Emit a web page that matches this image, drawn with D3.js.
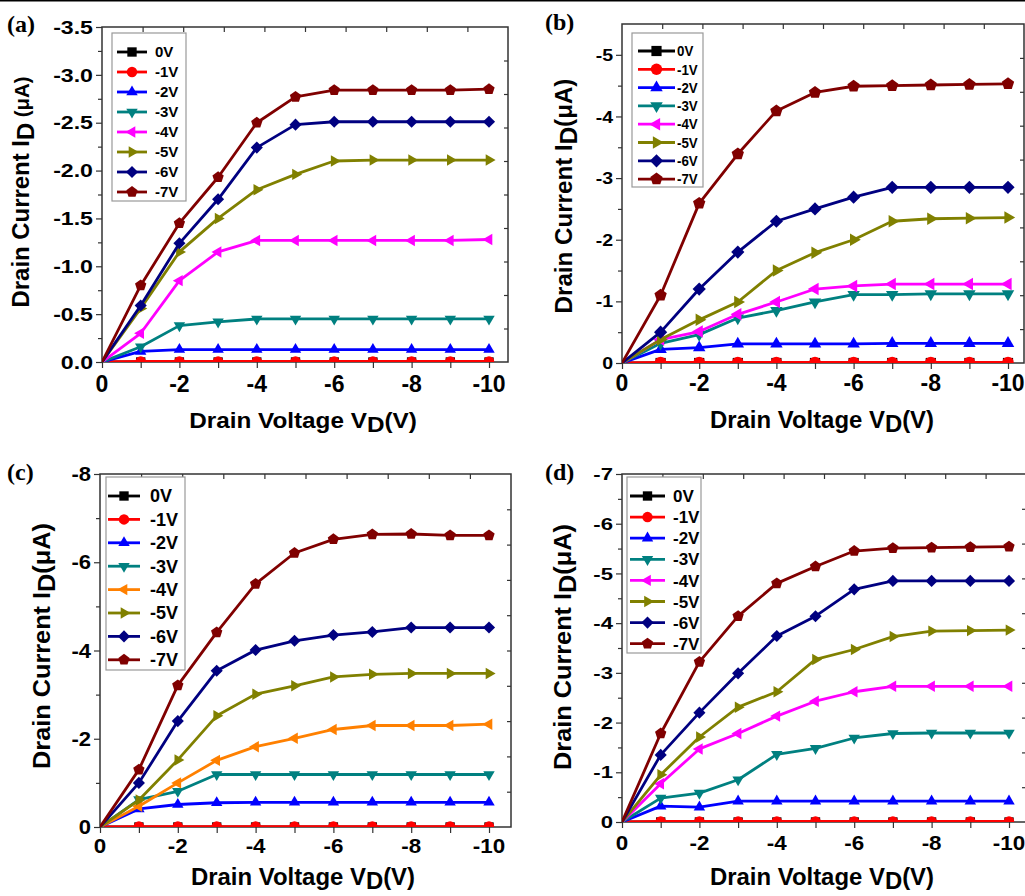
<!DOCTYPE html>
<html lang="en">
<head>
<meta charset="UTF-8">
<title>Drain current vs drain voltage</title>
<script src="https://d3js.org/d3.v7.min.js"></script>
<style>
  body { margin: 0; background: #fff; }
  svg { display: block; font-family: "Liberation Sans", Arial, sans-serif; font-weight: bold; }
  .tag { font-family: "Liberation Serif", "Times New Roman", serif; }
</style>
</head>
<body>
<svg id="chart" width="1025" height="896"></svg>
<script>
// ---- data (drain current in uA) ----
const drainV = [0, -1, -2, -3, -4, -5, -6, -7, -8, -9, -10];
const gateV = ["0V", "-1V", "-2V", "-3V", "-4V", "-5V", "-6V", "-7V"];
const colorsMain = ["#000000", "#ff0000", "#0000ff", "#008080", "#ff00ff", "#808000", "#000080", "#800000"];
const colorsC = ["#000000", "#ff0000", "#0000ff", "#008080", "#ff8000", "#808000", "#000080", "#800000"];

const idA = [
  [0, 0, 0, 0, 0, 0, 0, 0, 0, 0, 0],
  [0, -0.005, -0.005, -0.005, -0.005, -0.005, -0.005, -0.005, -0.005, -0.005, -0.005],
  [0, -0.11, -0.13, -0.13, -0.13, -0.13, -0.13, -0.13, -0.13, -0.13, -0.13],
  [0, -0.16, -0.38, -0.42, -0.45, -0.45, -0.45, -0.45, -0.45, -0.45, -0.45],
  [0, -0.30, -0.85, -1.15, -1.27, -1.27, -1.27, -1.27, -1.27, -1.27, -1.28],
  [0, -0.56, -1.15, -1.50, -1.80, -1.96, -2.10, -2.11, -2.11, -2.11, -2.11],
  [0, -0.59, -1.24, -1.70, -2.24, -2.48, -2.51, -2.51, -2.51, -2.51, -2.51],
  [0, -0.80, -1.45, -1.93, -2.50, -2.77, -2.84, -2.84, -2.84, -2.84, -2.85]
];
const idB = [
  [0, 0, 0, 0, 0, 0, 0, 0, 0, 0, 0],
  [0, -0.01, -0.01, -0.01, -0.01, -0.01, -0.01, -0.01, -0.01, -0.01, -0.01],
  [0, -0.22, -0.25, -0.31, -0.31, -0.31, -0.31, -0.32, -0.32, -0.32, -0.32],
  [0, -0.32, -0.46, -0.73, -0.85, -0.99, -1.11, -1.11, -1.12, -1.12, -1.12],
  [0, -0.38, -0.51, -0.79, -0.99, -1.20, -1.25, -1.28, -1.28, -1.28, -1.28],
  [0, -0.38, -0.70, -0.99, -1.50, -1.79, -2.00, -2.30, -2.34, -2.35, -2.36],
  [0, -0.50, -1.20, -1.80, -2.30, -2.50, -2.69, -2.85, -2.85, -2.85, -2.85],
  [0, -1.10, -2.59, -3.39, -4.09, -4.39, -4.49, -4.50, -4.51, -4.52, -4.53]
];
const idC = [
  [0, 0, 0, 0, 0, 0, 0, 0, 0, 0, 0],
  [0, -0.01, -0.01, -0.01, -0.01, -0.01, -0.01, -0.01, -0.01, -0.01, -0.01],
  [0, -0.41, -0.51, -0.55, -0.56, -0.56, -0.56, -0.56, -0.56, -0.56, -0.56],
  [0, -0.62, -0.81, -1.19, -1.19, -1.19, -1.19, -1.19, -1.19, -1.19, -1.19],
  [0, -0.47, -1.00, -1.51, -1.82, -2.01, -2.21, -2.30, -2.30, -2.30, -2.33],
  [0, -0.61, -1.52, -2.52, -3.01, -3.20, -3.40, -3.46, -3.48, -3.48, -3.48],
  [0, -1.00, -2.40, -3.54, -4.01, -4.22, -4.35, -4.42, -4.52, -4.52, -4.52],
  [0, -1.30, -3.21, -4.41, -5.51, -6.21, -6.52, -6.63, -6.64, -6.61, -6.61]
];
const idD = [
  [0, 0, 0, 0, 0, 0, 0, 0, 0, 0, 0],
  [0, -0.01, -0.01, -0.01, -0.01, -0.01, -0.01, -0.01, -0.01, -0.01, -0.01],
  [0, -0.32, -0.30, -0.42, -0.42, -0.42, -0.42, -0.42, -0.42, -0.42, -0.42],
  [0, -0.48, -0.58, -0.85, -1.36, -1.48, -1.69, -1.78, -1.79, -1.79, -1.79],
  [0, -0.77, -1.47, -1.78, -2.13, -2.43, -2.62, -2.73, -2.73, -2.73, -2.73],
  [0, -0.95, -1.71, -2.31, -2.62, -3.27, -3.47, -3.73, -3.84, -3.85, -3.86],
  [0, -1.35, -2.20, -2.99, -3.74, -4.14, -4.68, -4.85, -4.85, -4.85, -4.85],
  [0, -1.78, -3.22, -4.14, -4.80, -5.14, -5.45, -5.51, -5.52, -5.53, -5.54]
];

const xTicks = [0, -2, -4, -6, -8, -10];
const xMinor = [-1, -3, -5, -7, -9];
const yTicksA = [0, -0.5, -1, -1.5, -2, -2.5, -3, -3.5];
const yTicksB = [0, -1, -2, -3, -4, -5];
const yTicksC = [0, -2, -4, -6, -8];
const yTicksD = [0, -1, -2, -3, -4, -5, -6, -7];

// ---- layout ----
const panels = [
  { tag: "(a)", tagX: 7, tagY: 32, data: idA, colors: colorsMain, yTicks: yTicksA, digits: 1, yTop: -3.5,
    left: 102, x10: 489, right: 508, top: 27, bottom: 362,
    yFont: 18.5, yStretch: 1.25, xFont: 23, xStretch: 1.0, xBase: 392,
    xTitle: [303, 428, 22.5, 1.08], yTitle: [29, 192, 23, 1.04], unitSpace: true,
    leg: { x0: 112, x1: 186, y0: 33, y1: 201, row: 52, step: 20, l0: 117, l1: 147, tx: 155, font: 15, sx: 1.0 }, mk: 5.5 },
  { tag: "(b)", tagX: 545, tagY: 30, data: idB, colors: colorsMain, yTicks: yTicksB, digits: 0, yTop: -5.5,
    left: 622, x10: 1008, right: 1024, top: 24, bottom: 363,
    yFont: 17, yStretch: 1.15, xFont: 23, xStretch: 1.0, xBase: 391,
    xTitle: [822, 428, 23, 1.04], yTitle: [572, 196, 23, 1.05], unitSpace: false,
    leg: { x0: 632, x1: 703, y0: 33, y1: 187, row: 51, step: 18.3, l0: 638, l1: 675, tx: 677, font: 14.5, sx: 0.92 }, mk: 6 },
  { tag: "(c)", tagX: 7, tagY: 480, data: idC, colors: colorsC, yTicks: yTicksC, digits: 0, yTop: -8,
    left: 100, x10: 489, right: 511, top: 474, bottom: 827,
    yFont: 20, yStretch: 1.1, xFont: 20, xStretch: 1.12, xBase: 853,
    xTitle: [303, 885, 23, 1.04], yTitle: [50, 646, 23, 1.1], unitSpace: false,
    leg: { x0: 106, x1: 185, y0: 477, y1: 670, row: 496, step: 23.4, l0: 108, l1: 140, tx: 150, font: 18, sx: 1.0 }, mk: 5.5 },
  { tag: "(d)", tagX: 545, tagY: 480, data: idD, colors: colorsMain, yTicks: yTicksD, digits: 0, yTop: -7,
    left: 622, x10: 1009, right: 1026, top: 474, bottom: 822,
    yFont: 17, yStretch: 1.3, xFont: 20, xStretch: 1.12, xBase: 850,
    xTitle: [822, 885, 23, 1.04], yTitle: [571, 647, 23, 1.1], unitSpace: false,
    leg: { x0: 627, x1: 701, y0: 477, y1: 653, row: 496, step: 21.1, l0: 630, l1: 665, tx: 673, font: 17, sx: 1.0 }, mk: 5.5 }
];

const svg = d3.select("#chart");
const axisColor = "#333";

// thin rule across the top of the figure
svg.append("line").attr("x1", 0).attr("x2", 1025).attr("y1", 0.75).attr("y2", 0.75)
  .attr("stroke", "#000").attr("stroke-width", 1.5);

function polar(r, deg) {
  const a = deg * Math.PI / 180;
  return [r * Math.cos(a), r * Math.sin(a)];
}

// marker shapes in series order: square, circle, up, down, left, right, diamond, pentagon
function markerPath(k, r) {
  const p = d3.path();
  if (k === 1) { p.arc(0, 0, r * 0.95, 0, 2 * Math.PI); return p.toString(); }
  let pts;
  if (k === 0) pts = [[-r * .85, -r * .85], [r * .85, -r * .85], [r * .85, r * .85], [-r * .85, r * .85]];
  else if (k >= 2 && k <= 5) {
    const a0 = { 2: -90, 3: 90, 4: 180, 5: 0 }[k];
    pts = [0, 120, 240].map(a => polar(r * 1.2, a0 + a));
  }
  else if (k === 6) pts = [0, 90, 180, 270].map(a => polar(r * 1.1, a));
  else pts = [0, 72, 144, 216, 288].map(a => polar(r * 1.08, -90 + a));
  p.moveTo(pts[0][0], pts[0][1]);
  pts.slice(1).forEach(q => p.lineTo(q[0], q[1]));
  p.closePath();
  return p.toString();
}

function fmt(v, digits) {
  return v === 0 ? (0).toFixed(digits) : v.toFixed(digits);
}

panels.forEach((p, pi) => {
  const x = d3.scaleLinear().domain([0, -10]).range([p.left, p.x10]);
  const y = d3.scaleLinear().domain([0, p.yTop]).range([p.bottom, p.top]);
  const g = svg.append("g");

  // mirrored ticks (top and right) split the frame into tenths
  const topScale = d3.scaleLinear().domain([0, 10]).range([p.left, p.right]);
  const rightScale = d3.scaleLinear().domain([0, 10]).range([p.bottom, p.top]);
  g.append("g").attr("transform", `translate(0,${p.top})`)
    .call(d3.axisTop(topScale).tickValues(d3.range(1, 10)).tickSize(-5).tickFormat(""));
  g.append("g").attr("transform", `translate(${p.right},0)`)
    .call(d3.axisRight(rightScale).tickValues(d3.range(1, 10)).tickSize(-4).tickFormat(""));

  // left ticks, outward
  const yMinor = p.yTicks.slice(1).map((v, i) => (v + p.yTicks[i]) / 2);
  g.append("g").attr("transform", `translate(${p.left},0)`)
    .call(d3.axisLeft(y).tickValues(p.yTicks).tickSize(6).tickFormat(""));
  g.append("g").attr("transform", `translate(${p.left},0)`)
    .call(d3.axisLeft(y).tickValues(yMinor).tickSize(4).tickFormat(""));
  // bottom ticks, outward
  g.append("g").attr("transform", `translate(0,${p.bottom})`)
    .call(d3.axisBottom(x).tickValues(xTicks).tickSize(6).tickFormat(""));
  g.append("g").attr("transform", `translate(0,${p.bottom})`)
    .call(d3.axisBottom(x).tickValues(xMinor).tickSize(6).tickFormat(""));

  g.selectAll(".domain").remove();
  g.selectAll(".tick line").attr("stroke", axisColor).attr("stroke-width", 1.2);

  // frame
  g.append("rect").attr("x", p.left).attr("y", p.top)
    .attr("width", p.right - p.left).attr("height", p.bottom - p.top)
    .attr("fill", "none").attr("stroke", axisColor).attr("stroke-width", 1.5);

  // tick labels
  g.selectAll(".ylab").data(p.yTicks).join("text")
    .attr("class", "ylab")
    .attr("transform", d => `translate(${p.left - 9},${y(d)}) scale(${p.yStretch},1)`)
    .attr("dy", "0.36em").attr("text-anchor", "end")
    .attr("font-size", p.yFont).attr("fill", "#000")
    .text(d => fmt(d, p.digits));
  g.selectAll(".xlab").data(xTicks).join("text")
    .attr("class", "xlab")
    .attr("transform", d => `translate(${x(d)},${p.xBase}) scale(${p.xStretch},1)`)
    .attr("text-anchor", "middle")
    .attr("font-size", p.xFont).attr("fill", "#000")
    .text(d => fmt(d, 0));

  // axis titles
  const [xtx, xty, xtf, xts] = p.xTitle;
  const xt = g.append("text")
    .attr("transform", `translate(${xtx},${xty}) scale(${xts},1)`)
    .attr("text-anchor", "middle").attr("font-size", xtf).attr("fill", "#000");
  xt.append("tspan").text("Drain Voltage V");
  xt.append("tspan").attr("dy", 4).text("D");
  xt.append("tspan").attr("dy", -4).text("(V)");

  const [ytx, yty, ytf, yts] = p.yTitle;
  const yt = g.append("text")
    .attr("transform", `translate(${ytx},${yty}) rotate(-90) scale(${yts},1)`)
    .attr("text-anchor", "middle").attr("font-size", ytf).attr("fill", "#000");
  yt.append("tspan").text("Drain Current I");
  yt.append("tspan").attr("dy", 5).text("D");
  if (p.unitSpace) {
    yt.append("tspan").attr("dy", -5).attr("font-size", ytf * 0.85).text(" (\u03bcA)");
  } else {
    yt.append("tspan").attr("dy", -5).text("(\u03bcA)");
  }

  // panel tag
  g.append("text").attr("class", "tag")
    .attr("x", p.tagX).attr("y", p.tagY)
    .attr("font-size", 24).attr("fill", "#000").text(p.tag);

  // curves, clipped to the frame
  const clipId = "clip" + pi;
  svg.append("clipPath").attr("id", clipId).append("rect")
    .attr("x", p.left).attr("y", p.top)
    .attr("width", p.right - p.left).attr("height", p.bottom - p.top);
  const plot = g.append("g").attr("clip-path", `url(#${clipId})`);
  const line = d3.line().x((d, i) => x(drainV[i])).y(d => y(d));

  p.data.forEach((row, k) => {
    const c = p.colors[k];
    plot.append("path").datum(row)
      .attr("d", line).attr("fill", "none")
      .attr("stroke", c).attr("stroke-width", 2.8).attr("stroke-linejoin", "round");
    plot.selectAll(null).data(row.slice(1)).join("path")
      .attr("transform", (d, i) => `translate(${x(drainV[i + 1])},${y(d)})`)
      .attr("d", markerPath(k, p.mk)).attr("fill", c);
  });

  // legend
  const L = p.leg;
  g.append("rect").attr("x", L.x0).attr("y", L.y0)
    .attr("width", L.x1 - L.x0).attr("height", L.y1 - L.y0)
    .attr("fill", "#fff").attr("stroke", "#999").attr("stroke-width", 1.2);
  gateV.forEach((name, k) => {
    const ly = L.row + k * L.step;
    const c = p.colors[k];
    g.append("line").attr("x1", L.l0).attr("x2", L.l1).attr("y1", ly).attr("y2", ly)
      .attr("stroke", c).attr("stroke-width", 2.8);
    g.append("path").attr("transform", `translate(${(L.l0 + L.l1) / 2},${ly})`)
      .attr("d", markerPath(k, p.mk)).attr("fill", c);
    g.append("text")
      .attr("transform", `translate(${L.tx},${ly}) scale(${L.sx},1)`)
      .attr("dy", "0.36em").attr("font-size", L.font).attr("fill", "#000")
      .text(name);
  });
});
</script>
</body>
</html>
